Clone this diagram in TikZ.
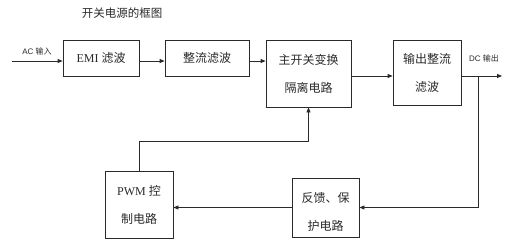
\documentclass[tikz,border=0pt]{standalone}
\usepackage{fontspec}
\setmainfont{Liberation Serif}
\setsansfont{Liberation Sans}
\newfontfamily\cjk{Noto Sans CJK SC}
\usetikzlibrary{arrows.meta}
\definecolor{ink}{HTML}{2A2A2A}
\begin{document}
\begin{tikzpicture}[x=1pt,y=-1pt,
  box/.style={draw=ink, line width=0.8pt, rectangle, inner sep=0pt, text=ink, font=\fontsize{12}{28}\selectfont},
  lbl/.style={text=ink, inner sep=0pt, align=center, font=\fontsize{12}{28}\selectfont},
  conn/.style={draw=ink, line width=0.8pt},
  arr/.style={conn, -{Triangle[length=5pt,width=4pt]}},
  small/.style={text=ink, inner sep=0pt, font=\sffamily\fontsize{8}{9}\selectfont}]
\fill[white] (0,0) rectangle (510,242);
\useasboundingbox (0,0) rectangle (510,242);
% title
\node[text=ink, inner sep=0pt, font=\cjk\fontsize{11.5}{12}\selectfont] (title) at (122,13) {开关电源的框图};
% boxes
\node[box, minimum width=76pt, minimum height=36pt] (b1) at (101,58) {EMI {\cjk 滤波}};
\node[box, minimum width=84pt, minimum height=36pt] (b2) at (207,58) {\cjk 整流滤波};
\node[box, minimum width=85pt, minimum height=67pt, align=center] (b3) at (308.5,73.5) {\cjk 主开关变换\\\cjk 隔离电路};
\node[box, minimum width=68pt, minimum height=65pt, align=center] (b4) at (427,72.5) {\cjk 输出整流\\\cjk 滤波};
\node[box, minimum width=67pt, minimum height=59pt] (b5) at (325.5,207.5) {};
\node[lbl] (t5) at (325.5,212) {\cjk 反馈、保\\\cjk 护电路};
\node[box, minimum width=68pt, minimum height=67pt, align=center] (pwm) at (139,204.5) {PWM {\cjk 控}\\\cjk 制电路};
% labels
\node[small] (ac) at (37,51) {AC {\cjk 输入}};
\node[small] (dc) at (484,58) {DC {\cjk 输出}};
% connectors
\coordinate (in) at (12,61);
\coordinate (out) at (502,76);
\coordinate (j) at (478,76);
\draw[arr] (in) -- ([yshift=-3pt]b1.west);
\draw[arr] ([yshift=-3pt]b1.east) -- ([yshift=-3pt]b2.west);
\draw[arr] ([yshift=-3pt]b2.east) -- ([yshift=-3pt]b2.east -| b3.west);
\draw[arr] ([yshift=-2.5pt]b3.east) -- ([yshift=-2.5pt]b3.east -| b4.west);
\draw[arr] ([yshift=-3.5pt]b4.east) -- (out);
\draw[arr] (j) |- (b5.east);
\draw[arr] (b5.west) -- (b5.west -| pwm.east);
\draw[arr] (pwm.north) -- ++(0,-29) -| (b3.south);
\end{tikzpicture}
\end{document}
